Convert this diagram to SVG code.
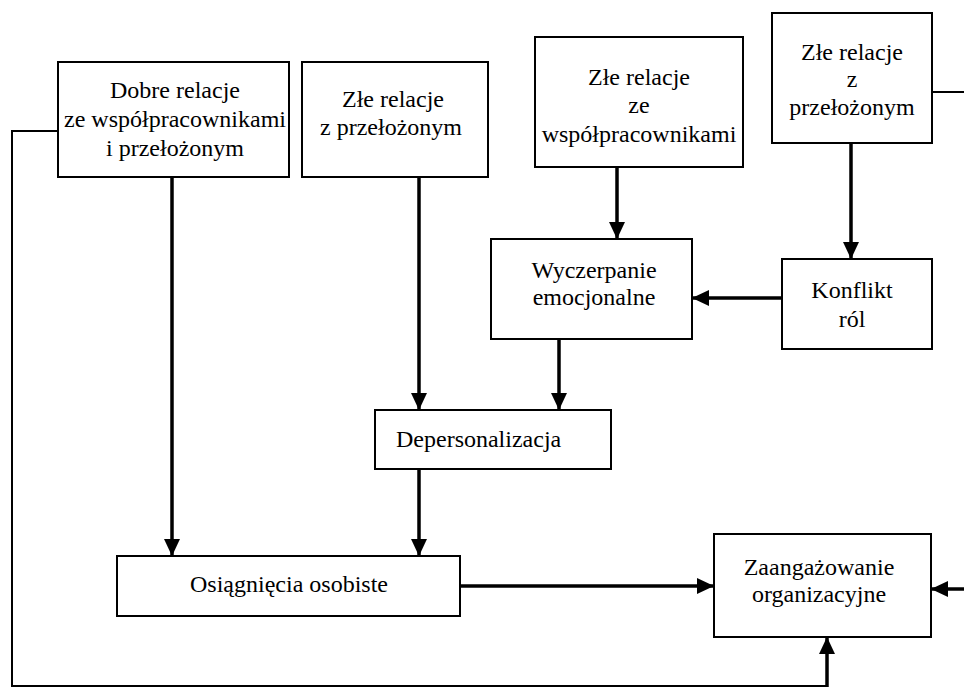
<svg xmlns="http://www.w3.org/2000/svg" width="964" height="688" viewBox="0 0 964 688">
<style>
.box{fill:#fff;stroke:#000;stroke-width:2}
.t{font-family:"Liberation Serif","Times New Roman",serif;font-size:24px;fill:#000;text-anchor:middle}
.a{fill:none;stroke:#000;stroke-width:3.5;marker-end:url(#ah)}
.l{fill:none;stroke:#000;stroke-width:2}
</style>
<defs>
<marker id="ah" markerUnits="userSpaceOnUse" markerWidth="18" markerHeight="18" viewBox="0 0 18 18" refX="17" refY="9" orient="auto">
<path d="M0,1 L17,9 L0,17 Z" fill="#000"/>
</marker>
</defs>
<rect width="964" height="688" fill="#fff"/>
<g id="connectors">
<line class="a" x1="172" y1="177" x2="172" y2="556"/>
<line class="a" x1="419" y1="177" x2="419" y2="410"/>
<line class="a" x1="617" y1="167" x2="617" y2="239"/>
<line class="a" x1="851" y1="143" x2="851" y2="259"/>
<line class="a" x1="782" y1="298" x2="692" y2="298"/>
<line class="a" x1="559" y1="339" x2="559" y2="410"/>
<line class="a" x1="419" y1="469" x2="419" y2="556"/>
<line class="a" x1="460" y1="586" x2="714" y2="586"/>
<line class="a" x1="964" y1="589" x2="931" y2="589"/>
<polyline class="l" points="58,131 12,131 12,686 827,686"/>
<line class="a" x1="827" y1="687" x2="827" y2="637"/>
<line class="l" x1="932" y1="92" x2="964" y2="92"/>
</g>
<g id="n1"><rect class="box" x="58" y="62" width="231" height="115"/>
<text class="t" x="175" y="98">Dobre relacje</text><text class="t" x="175" y="127">ze współpracownikami</text><text class="t" x="175" y="156">i przełożonym</text></g>
<g id="n2"><rect class="box" x="302" y="62" width="186" height="115"/>
<text class="t" x="393" y="107">Złe relacje</text><text class="t" x="391" y="135">z przełożonym</text></g>
<g id="n3"><rect class="box" x="535" y="37" width="208" height="130"/>
<text class="t" x="639" y="85">Złe relacje</text><text class="t" x="639" y="113">ze</text><text class="t" x="639" y="142">współpracownikami</text></g>
<g id="n4"><rect class="box" x="772" y="13" width="160" height="130"/>
<text class="t" x="852" y="60">Złe relacje</text><text class="t" x="852" y="87">z</text><text class="t" x="852" y="115">przełożonym</text></g>
<g id="n5"><rect class="box" x="491" y="239" width="201" height="100"/>
<text class="t" x="594" y="278">Wyczerpanie</text><text class="t" x="594" y="305">emocjonalne</text></g>
<g id="n6"><rect class="box" x="782" y="259" width="150" height="90"/>
<text class="t" x="852" y="298">Konflikt</text><text class="t" x="852" y="327">ról</text></g>
<g id="n7"><rect class="box" x="375" y="410" width="236" height="59"/>
<text class="t" x="396" y="447" style="text-anchor:start">Depersonalizacja</text></g>
<g id="n8"><rect class="box" x="117" y="556" width="343" height="60"/>
<text class="t" x="289" y="592">Osiągnięcia osobiste</text></g>
<g id="n9"><rect class="box" x="714" y="534" width="217" height="103"/>
<text class="t" x="819" y="575">Zaangażowanie</text><text class="t" x="819" y="602">organizacyjne</text></g>
</svg>
